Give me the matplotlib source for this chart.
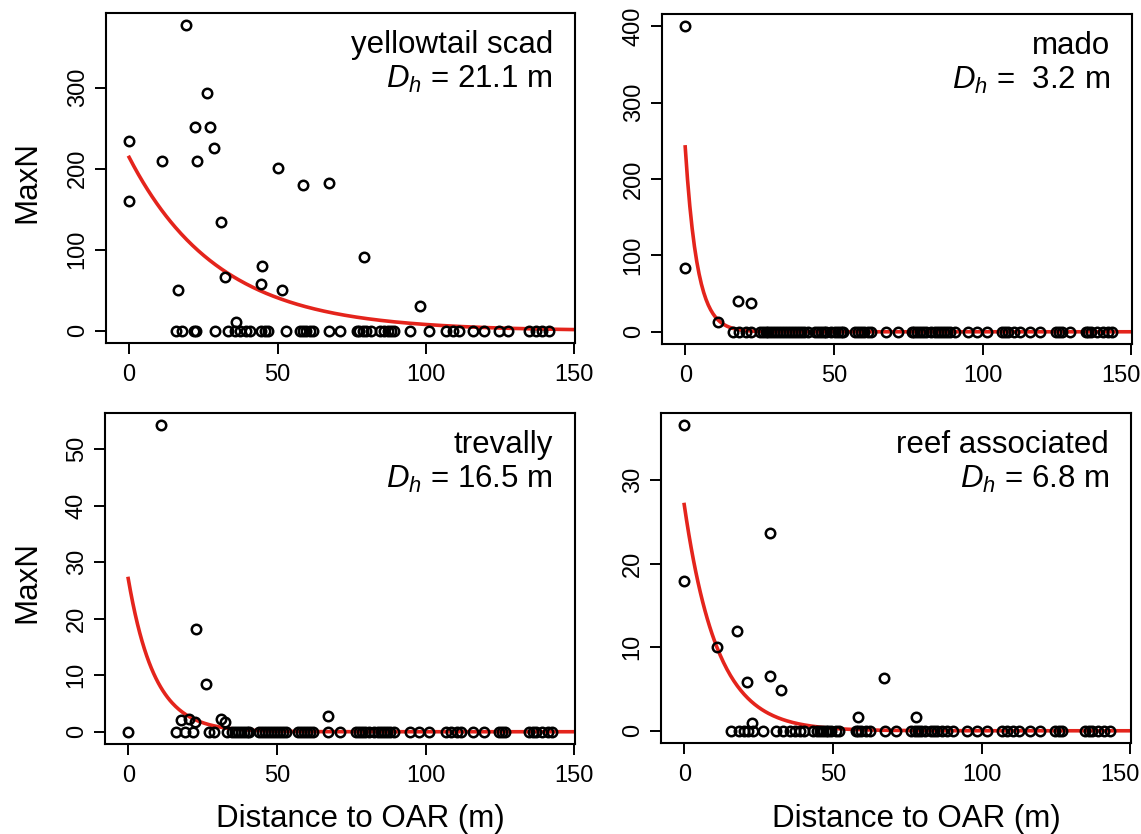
import numpy as np
import matplotlib
matplotlib.use("Agg")
import matplotlib.pyplot as plt
import matplotlib.transforms as mtrans

plt.rcParams['font.family'] = ['Liberation Sans', 'DejaVu Sans']
plt.rcParams['mathtext.fontset'] = 'custom'
plt.rcParams['mathtext.rm'] = 'Liberation Sans'
plt.rcParams['mathtext.it'] = 'Liberation Sans:italic'

# distances (m) and MaxN; sites with MaxN = 0 kept separately
scad_x = [0, 0, 11.1, 16.3, 19.2, 22.1, 22.9, 26.1, 27.4, 28.6, 31.1, 32.3, 35.9,
          44.3, 44.6, 50.1, 51.6, 58.7, 67.2, 79.0, 98.1]
scad_y = [234, 160, 209, 50, 377, 251, 210, 293, 251, 226, 134, 66, 11,
          58, 80, 201, 50, 180, 182, 91, 30]
scad_zero = [15.9, 17.9, 21.9, 22.6, 29.0, 33.3, 35.5, 37.2, 39.5, 40.6, 44.5, 45.6, 46.7,
             52.7, 57.4, 58.5, 59.6, 60.8, 61.9, 67.2, 71.1, 76.8, 77.6, 78.7, 79.8, 81.5,
             84.6, 86.0, 87.1, 88.2, 89.3, 94.6, 101.1, 106.7, 109.0, 111.2, 115.9, 119.6,
             124.7, 127.5, 134.8, 137.0, 139.2, 141.5]

mado_x = [0, 0, 10.9, 17.9, 22.2]
mado_y = [400, 83.5, 13, 40, 38]
mado_zero = [16.0, 18.2, 20.5, 22.2, 25.0, 26.0, 27.0, 28.0, 29.0, 30.0, 31.0, 32.0, 33.0,
             34.0, 35.0, 36.0, 37.0, 38.0, 39.0, 40.0, 41.3, 43.5, 44.5, 45.5, 46.5, 47.5,
             49.1, 50.5, 51.5, 52.5, 53.1, 57.0, 58.0, 59.0, 60.0, 61.5, 62.6, 67.4, 71.4,
             76.1, 77.0, 78.0, 79.0, 80.0, 81.0, 82.5, 84.0, 85.0, 86.0, 87.0, 88.0, 89.0,
             90.7, 95.0, 98.0, 101.4, 106.5, 107.5, 108.5, 110.5, 112.7, 116.0, 119.4,
             124.5, 125.5, 126.5, 129.5, 134.6, 135.5, 136.5, 138.5, 140.5, 142.0, 143.6]

trev_x = [11.1, 22.8, 26.1, 67.2, 17.9, 20.6, 22.6, 31.1, 32.5]
trev_y = [54.2, 18.2, 8.4, 2.7, 2.0, 2.2, 1.8, 2.3, 1.8]
trev_zero = [0, 15.9, 19.1, 21.9, 27.1, 28.8, 33.3, 35.0, 36.0, 37.0, 38.0, 39.0, 40.0,
             40.6, 44.0, 45.0, 46.0, 47.0, 48.0, 49.0, 50.0, 51.0, 52.0, 53.0, 57.0, 58.0,
             59.0, 60.0, 61.0, 62.0, 67.2, 71.1, 76.5, 77.5, 78.5, 79.5, 81.0, 82.5, 84.0,
             85.0, 86.0, 87.0, 88.0, 89.5, 94.6, 97.8, 101.0, 106.7, 108.5, 110.5, 112.0,
             116.0, 119.6, 124.7, 125.5, 126.5, 134.8, 136.0, 137.0, 139.0, 141.0, 142.6]

reef_x = [0, 0, 28.7, 17.8, 11.0, 29.0, 21.1, 32.4, 67.2, 58.4, 77.8, 22.7]
reef_y = [36.6, 17.9, 23.7, 12.0, 10.0, 6.6, 5.8, 4.9, 6.3, 1.6, 1.6, 0.9]
reef_zero = [15.7, 18.5, 20.2, 21.3, 23.0, 26.4, 30.9, 33.1, 35.4, 37.1, 38.8, 40.4, 43.3,
             44.5, 45.5, 46.5, 47.5, 48.5, 49.5, 51.0, 52.2, 57.9, 58.5, 59.5, 61.0, 62.4,
             67.4, 71.3, 76.4, 77.5, 78.5, 79.5, 81.0, 83.0, 84.0, 85.0, 86.5, 88.5, 90.4,
             94.9, 98.3, 101.7, 106.7, 108.5, 110.5, 112.4, 116.3, 119.7, 124.7, 126.0,
             127.0, 134.8, 136.0, 137.0, 139.0, 141.0, 143.3]

# fitted curve: start value and decay rate
fit_a = [214, 242, 27.1, 27.1]
fit_b = [0.0332, 0.249, 0.113, 0.0906]

titles = ['yellowtail scad', 'mado', 'trevally', 'reef associated']
dh_labels = [r'$D_h$ = 21.1 m', r'$D_h$ =  3.2 m', r'$D_h$ = 16.5 m', r'$D_h$ = 6.8 m']
yticks = [[0, 100, 200, 300], [0, 100, 200, 300, 400], [0, 10, 20, 30, 40, 50], [0, 10, 20, 30]]
xs = [scad_x + scad_zero, mado_x + mado_zero, trev_x + trev_zero, reef_x + reef_zero]
ys = [scad_y + [0] * len(scad_zero), mado_y + [0] * len(mado_zero),
      trev_y + [0] * len(trev_zero), reef_y + [0] * len(reef_zero)]

fig = plt.figure(figsize=(11.41, 8.34), dpi=100)
W, H = 1141, 834
boxes = [(106, 13, 575, 343), (662, 14, 1132, 344),
         (105, 413, 575, 744), (661, 413, 1131, 743)]

red = '#e4241c'
xcurve = np.linspace(0, 155, 400)

for i in range(4):
    l, t, r, b = boxes[i]
    ax = fig.add_axes([l / W, (H - b) / H, (r - l) / W, (b - t) / H])
    ymax = max(ys[i])
    ax.set_xlim(-7.8, 150.2)
    ax.set_ylim(-0.04 * ymax, 1.04 * ymax)
    ax.plot(xcurve, fit_a[i] * np.exp(-fit_b[i] * xcurve), color=red, lw=2.6, zorder=2)
    ax.plot(xs[i], ys[i], 'o', mfc='none', mec='black', ms=6.8, mew=1.8, zorder=3,
            clip_on=False)
    ax.set_xticks([0, 50, 100, 150])
    ax.set_yticks(yticks[i])
    ax.tick_params(direction='out', length=8, width=1.4, labelsize=17, color='black')
    ax.tick_params(axis='x', pad=7)
    ax.tick_params(axis='y', pad=4.5)
    for lab in ax.get_yticklabels():
        lab.set_rotation(90)
        lab.set_va('center')
    if i % 2 == 1:
        # last label sits at the figure edge; nudge it in a little
        last = ax.get_xticklabels()[-1]
        last.set_transform(last.get_transform() +
                           mtrans.ScaledTranslation(-0.1, 0, fig.dpi_scale_trans))
    for s in ax.spines.values():
        s.set_linewidth(1.5)
    ax.text(0.953, 0.879, titles[i], transform=ax.transAxes, ha='right', va='baseline',
            fontsize=22.5)
    ax.text(0.953, 0.773, dh_labels[i], transform=ax.transAxes, ha='right', va='baseline',
            fontsize=22.5)
    if i % 2 == 0:
        fig.text(27 / W, 1 - ((t + b) / 2 + 4) / H, 'MaxN', rotation=90,
                 ha='center', va='center', fontsize=22.5)
    if i >= 2:
        fig.text(((l + r) / 2 + 20) / W, 1 - 827 / H, 'Distance to OAR (m)',
                 ha='center', va='baseline', fontsize=22.5)

fig.savefig('out.png', dpi=100)
